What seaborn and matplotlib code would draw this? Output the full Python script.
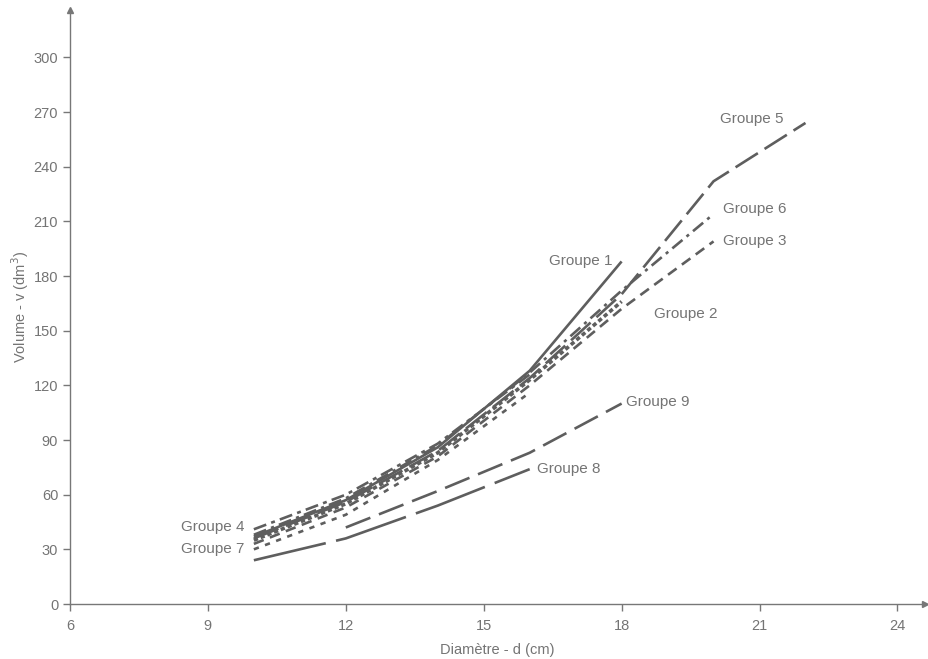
import matplotlib
matplotlib.use("Agg")
import matplotlib.pyplot as plt
import seaborn as sns
import pandas as pd

# ---- data ----
g1_d = [10, 12, 14, 16, 18]
g1_v = [37, 57, 86, 128, 188]
g2_d = [10, 12, 14, 16, 18]
g2_v = [35, 55, 83, 123, 166]
g3_d = [10, 12, 14, 16, 18, 20]
g3_v = [33, 53, 81, 120, 162, 199]
g4_d = [10, 12, 14, 16]
g4_v = [41, 60, 88, 126]
g5_d = [10, 12, 14, 16, 18, 20, 22]
g5_v = [36, 56, 84, 124, 170, 232, 264]
g6_d = [10, 12, 14, 16, 18, 20]
g6_v = [38, 58, 87, 127, 172, 214]
g7_d = [10, 12, 14, 16]
g7_v = [30, 49, 79, 116]
g8_d = [10, 12, 14, 16]
g8_v = [24, 36, 54, 74]
g9_d = [12, 14, 16, 18]
g9_v = [42, 62, 83, 110]

groups = ["Groupe 1", "Groupe 2", "Groupe 3", "Groupe 4", "Groupe 5",
          "Groupe 6", "Groupe 7", "Groupe 8", "Groupe 9"]
series_d = [g1_d, g2_d, g3_d, g4_d, g5_d, g6_d, g7_d, g8_d, g9_d]
series_v = [g1_v, g2_v, g3_v, g4_v, g5_v, g6_v, g7_v, g8_v, g9_v]

x_ticks = [6, 9, 12, 15, 18, 21, 24]
y_ticks = [0, 30, 60, 90, 120, 150, 180, 210, 240, 270, 300]

rows = []
for g, ds, vs in zip(groups, series_d, series_v):
    for d, v in zip(ds, vs):
        rows.append({"groupe": g, "d": d, "v": v})
df = pd.DataFrame(rows)

# ---- styles ----
sns.set_theme(style="white")
plt.rcParams["font.family"] = ["Liberation Sans", "DejaVu Sans"]

line_col = "#5e5e5e"
text_col = "#747474"
dash_map = {
    "Groupe 1": None,
    "Groupe 2": (1.2, 0.8),
    "Groupe 3": (4, 2.5),
    "Groupe 4": (5, 2, 1.5, 2),
    "Groupe 5": (10, 3),
    "Groupe 6": (5, 2, 1.2, 2),
    "Groupe 7": (2, 2.5),
    "Groupe 8": (28, 4),
    "Groupe 9": (10, 3.5),
}
lw_map = {"Groupe 2": 2.6}

fig = plt.figure(figsize=(9.29, 6.59), dpi=100)
ax = fig.add_axes([70 / 929, 1 - 604 / 659, (925 - 70) / 929, (604 - 10) / 659])

for g in groups:
    sub = df[df["groupe"] == g]
    sns.lineplot(data=sub, x="d", y="v", ax=ax, color=line_col,
                 lw=lw_map.get(g, 1.9), estimator=None, sort=False, legend=False)
    ln = ax.lines[-1]
    if dash_map[g] is not None:
        ln.set_dashes(dash_map[g])
    ln.set_solid_capstyle("butt")
    ln.set_dash_capstyle("butt")

ax.set_xlim(6, 24.6)
ax.set_ylim(0, 326)
ax.set_xticks(x_ticks)
ax.set_yticks(y_ticks)

for s in ["top", "right"]:
    ax.spines[s].set_visible(False)
for s in ["left", "bottom"]:
    ax.spines[s].set_color("#777777")
    ax.spines[s].set_linewidth(1.0)

ax.tick_params(axis="both", which="both", direction="out", length=5, width=1,
               color="#777777", labelcolor=text_col, labelsize=10.5,
               bottom=True, left=True)
ax.tick_params(axis="x", pad=6)

# axis arrows
ax.plot(1, 0, ">", color="#777777", ms=5, transform=ax.transAxes, clip_on=False)
ax.plot(0, 1, "^", color="#777777", ms=5, transform=ax.transAxes, clip_on=False)

ax.set_xlabel("Diamètre - d (cm)", color=text_col, fontsize=10.5, labelpad=7)
ax.set_ylabel("Volume - v (dm$^3$)", color=text_col, fontsize=10.5, labelpad=2)

# group labels
lab_kw = dict(color=text_col, fontsize=11, va="center")
ax.text(17.8, 188, "Groupe 1", ha="right", **lab_kw)
ax.text(18.7, 159, "Groupe 2", ha="left", **lab_kw)
ax.text(20.2, 199, "Groupe 3", ha="left", **lab_kw)
ax.text(9.8, 42, "Groupe 4", ha="right", **lab_kw)
ax.text(20.15, 266, "Groupe 5", ha="left", **lab_kw)
ax.text(20.2, 217, "Groupe 6", ha="left", **lab_kw)
ax.text(9.8, 30, "Groupe 7", ha="right", **lab_kw)
ax.text(16.15, 74, "Groupe 8", ha="left", **lab_kw)
ax.text(18.1, 111, "Groupe 9", ha="left", **lab_kw)

fig.savefig("out.png", dpi=100)
